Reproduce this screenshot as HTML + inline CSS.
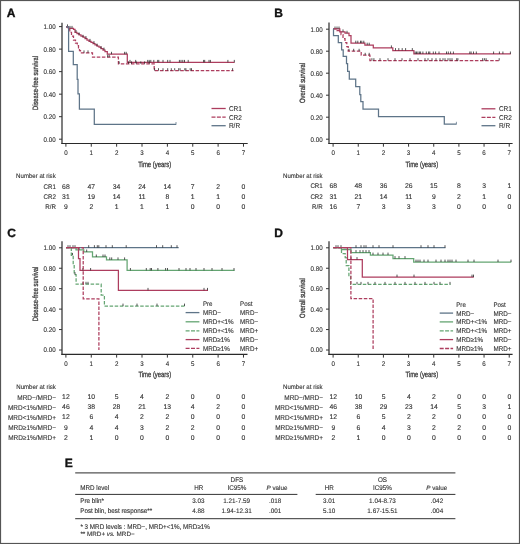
<!DOCTYPE html><html><head><meta charset="utf-8"><style>html,body{margin:0;padding:0;background:#fff;}svg{display:block;will-change:transform;}text{font-family:"Liberation Sans", sans-serif;text-rendering:geometricPrecision;stroke:#444;stroke-width:0.12px;}</style></head><body>
<svg width="520" height="544" viewBox="0 0 520 544">
<rect x="0" y="0" width="520" height="544" fill="#fff"/>
<rect x="0.5" y="0.5" width="519" height="543" fill="none" stroke="#555" stroke-width="1.2"/>
<text x="6.80" y="16.82" font-size="12.00" text-anchor="start" fill="#111" font-weight="bold" style="stroke:#111;stroke-width:0.35px">A</text>
<text x="274.20" y="17.32" font-size="12.00" text-anchor="start" fill="#111" font-weight="bold" style="stroke:#111;stroke-width:0.35px">B</text>
<text x="7.30" y="236.52" font-size="12.00" text-anchor="start" fill="#111" font-weight="bold" style="stroke:#111;stroke-width:0.35px">C</text>
<text x="274.20" y="236.52" font-size="12.00" text-anchor="start" fill="#111" font-weight="bold" style="stroke:#111;stroke-width:0.35px">D</text>
<text x="64.70" y="467.22" font-size="12.00" text-anchor="start" fill="#111" font-weight="bold" style="stroke:#111;stroke-width:0.35px">E</text>
<line x1="62.00" y1="22.70" x2="62.00" y2="144.00" stroke="#3a3a3a" stroke-width="1.3" />
<line x1="61.40" y1="143.50" x2="247.70" y2="143.50" stroke="#2a2a2a" stroke-width="1.2" />
<line x1="59.00" y1="139.20" x2="62.00" y2="139.20" stroke="#333" stroke-width="1.0" />
<text transform="translate(55.60,141.61) scale(0.926,1)" font-size="6.70" text-anchor="end" fill="#2b2b2b" font-weight="normal" >0.00</text>
<line x1="59.00" y1="116.68" x2="62.00" y2="116.68" stroke="#333" stroke-width="1.0" />
<text transform="translate(55.60,119.09) scale(0.926,1)" font-size="6.70" text-anchor="end" fill="#2b2b2b" font-weight="normal" >0.20</text>
<line x1="59.00" y1="94.16" x2="62.00" y2="94.16" stroke="#333" stroke-width="1.0" />
<text transform="translate(55.60,96.57) scale(0.926,1)" font-size="6.70" text-anchor="end" fill="#2b2b2b" font-weight="normal" >0.40</text>
<line x1="59.00" y1="71.64" x2="62.00" y2="71.64" stroke="#333" stroke-width="1.0" />
<text transform="translate(55.60,74.05) scale(0.926,1)" font-size="6.70" text-anchor="end" fill="#2b2b2b" font-weight="normal" >0.60</text>
<line x1="59.00" y1="49.12" x2="62.00" y2="49.12" stroke="#333" stroke-width="1.0" />
<text transform="translate(55.60,51.53) scale(0.926,1)" font-size="6.70" text-anchor="end" fill="#2b2b2b" font-weight="normal" >0.80</text>
<line x1="59.00" y1="26.60" x2="62.00" y2="26.60" stroke="#333" stroke-width="1.0" />
<text transform="translate(55.60,29.01) scale(0.926,1)" font-size="6.70" text-anchor="end" fill="#2b2b2b" font-weight="normal" >1.00</text>
<line x1="65.90" y1="143.50" x2="65.90" y2="146.70" stroke="#333" stroke-width="1.0" />
<text transform="translate(65.90,155.41) scale(0.926,1)" font-size="6.70" text-anchor="middle" fill="#2b2b2b" font-weight="normal" >0</text>
<line x1="91.27" y1="143.50" x2="91.27" y2="146.70" stroke="#333" stroke-width="1.0" />
<text transform="translate(91.27,155.41) scale(0.926,1)" font-size="6.70" text-anchor="middle" fill="#2b2b2b" font-weight="normal" >1</text>
<line x1="116.64" y1="143.50" x2="116.64" y2="146.70" stroke="#333" stroke-width="1.0" />
<text transform="translate(116.64,155.41) scale(0.926,1)" font-size="6.70" text-anchor="middle" fill="#2b2b2b" font-weight="normal" >2</text>
<line x1="142.01" y1="143.50" x2="142.01" y2="146.70" stroke="#333" stroke-width="1.0" />
<text transform="translate(142.01,155.41) scale(0.926,1)" font-size="6.70" text-anchor="middle" fill="#2b2b2b" font-weight="normal" >3</text>
<line x1="167.38" y1="143.50" x2="167.38" y2="146.70" stroke="#333" stroke-width="1.0" />
<text transform="translate(167.38,155.41) scale(0.926,1)" font-size="6.70" text-anchor="middle" fill="#2b2b2b" font-weight="normal" >4</text>
<line x1="192.75" y1="143.50" x2="192.75" y2="146.70" stroke="#333" stroke-width="1.0" />
<text transform="translate(192.75,155.41) scale(0.926,1)" font-size="6.70" text-anchor="middle" fill="#2b2b2b" font-weight="normal" >5</text>
<line x1="218.12" y1="143.50" x2="218.12" y2="146.70" stroke="#333" stroke-width="1.0" />
<text transform="translate(218.12,155.41) scale(0.926,1)" font-size="6.70" text-anchor="middle" fill="#2b2b2b" font-weight="normal" >6</text>
<line x1="243.49" y1="143.50" x2="243.49" y2="146.70" stroke="#333" stroke-width="1.0" />
<text transform="translate(243.49,155.41) scale(0.926,1)" font-size="6.70" text-anchor="middle" fill="#2b2b2b" font-weight="normal" >7</text>
<text transform="translate(35.20,83.00) rotate(-90)" x="0" y="2.77" font-size="7.7" text-anchor="middle" fill="#2b2b2b" style="stroke-width:0.3px" textLength="54" lengthAdjust="spacingAndGlyphs">Disease-free survival</text>
<text x="138.20" y="167.01" font-size="7.8" fill="#2b2b2b" style="stroke-width:0.3px" textLength="33.10" lengthAdjust="spacingAndGlyphs">Time (years)</text>
<path d="M66.00,26.80 H68.50 V28.30 H73.50 V29.30 H75.00 V32.40 H77.00 V33.60 H79.00 V34.80 H81.00 V36.00 H83.00 V37.20 H85.00 V38.60 H87.00 V40.00 H89.00 V41.30 H91.00 V42.40 H93.00 V43.60 H95.00 V44.80 H97.00 V46.00 H99.00 V47.20 H101.00 V48.60 H103.00 V50.00 H105.00 V51.50 H107.30 V54.20 H127.30 V62.30 H234.60 V62.30" fill="none" stroke="#ad3d5e" stroke-width="1.25" stroke-linejoin="miter"/>
<line x1="67.50" y1="24.40" x2="67.50" y2="26.80" stroke="#1e1e1e" stroke-width="0.75" />
<line x1="70.00" y1="25.90" x2="70.00" y2="28.30" stroke="#1e1e1e" stroke-width="0.75" />
<line x1="72.00" y1="25.90" x2="72.00" y2="28.30" stroke="#1e1e1e" stroke-width="0.75" />
<line x1="76.00" y1="30.00" x2="76.00" y2="32.40" stroke="#1e1e1e" stroke-width="0.75" />
<line x1="79.00" y1="32.40" x2="79.00" y2="34.80" stroke="#1e1e1e" stroke-width="0.75" />
<line x1="83.00" y1="34.80" x2="83.00" y2="37.20" stroke="#1e1e1e" stroke-width="0.75" />
<line x1="86.00" y1="36.20" x2="86.00" y2="38.60" stroke="#1e1e1e" stroke-width="0.75" />
<line x1="90.00" y1="38.90" x2="90.00" y2="41.30" stroke="#1e1e1e" stroke-width="0.75" />
<line x1="94.00" y1="41.20" x2="94.00" y2="43.60" stroke="#1e1e1e" stroke-width="0.75" />
<line x1="97.00" y1="43.60" x2="97.00" y2="46.00" stroke="#1e1e1e" stroke-width="0.75" />
<line x1="101.00" y1="46.20" x2="101.00" y2="48.60" stroke="#1e1e1e" stroke-width="0.75" />
<line x1="104.00" y1="47.60" x2="104.00" y2="50.00" stroke="#1e1e1e" stroke-width="0.75" />
<line x1="111.50" y1="51.80" x2="111.50" y2="54.20" stroke="#1e1e1e" stroke-width="0.75" />
<line x1="124.60" y1="51.80" x2="124.60" y2="54.20" stroke="#1e1e1e" stroke-width="0.75" />
<line x1="126.20" y1="51.80" x2="126.20" y2="54.20" stroke="#1e1e1e" stroke-width="0.75" />
<line x1="130.00" y1="59.90" x2="130.00" y2="62.30" stroke="#1e1e1e" stroke-width="0.75" />
<line x1="135.70" y1="59.90" x2="135.70" y2="62.30" stroke="#1e1e1e" stroke-width="0.75" />
<line x1="147.70" y1="59.90" x2="147.70" y2="62.30" stroke="#1e1e1e" stroke-width="0.75" />
<line x1="149.20" y1="59.90" x2="149.20" y2="62.30" stroke="#1e1e1e" stroke-width="0.75" />
<line x1="150.80" y1="59.90" x2="150.80" y2="62.30" stroke="#1e1e1e" stroke-width="0.75" />
<line x1="153.80" y1="59.90" x2="153.80" y2="62.30" stroke="#1e1e1e" stroke-width="0.75" />
<line x1="157.70" y1="59.90" x2="157.70" y2="62.30" stroke="#1e1e1e" stroke-width="0.75" />
<line x1="158.80" y1="59.90" x2="158.80" y2="62.30" stroke="#1e1e1e" stroke-width="0.75" />
<line x1="163.00" y1="59.90" x2="163.00" y2="62.30" stroke="#1e1e1e" stroke-width="0.75" />
<line x1="167.70" y1="59.90" x2="167.70" y2="62.30" stroke="#1e1e1e" stroke-width="0.75" />
<line x1="170.00" y1="59.90" x2="170.00" y2="62.30" stroke="#1e1e1e" stroke-width="0.75" />
<line x1="179.40" y1="59.90" x2="179.40" y2="62.30" stroke="#1e1e1e" stroke-width="0.75" />
<line x1="181.00" y1="59.90" x2="181.00" y2="62.30" stroke="#1e1e1e" stroke-width="0.75" />
<line x1="182.80" y1="59.90" x2="182.80" y2="62.30" stroke="#1e1e1e" stroke-width="0.75" />
<line x1="184.50" y1="59.90" x2="184.50" y2="62.30" stroke="#1e1e1e" stroke-width="0.75" />
<line x1="188.20" y1="59.90" x2="188.20" y2="62.30" stroke="#1e1e1e" stroke-width="0.75" />
<line x1="203.60" y1="59.90" x2="203.60" y2="62.30" stroke="#1e1e1e" stroke-width="0.75" />
<line x1="204.70" y1="59.90" x2="204.70" y2="62.30" stroke="#1e1e1e" stroke-width="0.75" />
<line x1="209.00" y1="59.90" x2="209.00" y2="62.30" stroke="#1e1e1e" stroke-width="0.75" />
<line x1="210.40" y1="59.90" x2="210.40" y2="62.30" stroke="#1e1e1e" stroke-width="0.75" />
<line x1="227.90" y1="59.90" x2="227.90" y2="62.30" stroke="#1e1e1e" stroke-width="0.75" />
<line x1="234.30" y1="59.90" x2="234.30" y2="62.30" stroke="#1e1e1e" stroke-width="0.75" />
<path d="M66.00,26.80 H68.00 V29.50 H69.80 V32.40 H71.50 V36.20 H73.50 V40.00 H75.50 V43.00 H77.30 V45.70 H78.50 V48.50 H79.50 V50.50 H80.50 V52.80 H92.50 V57.20 H118.40 V63.80 H154.20 V70.60 H233.50 V70.60" fill="none" stroke="#ad3d5e" stroke-width="1.25" stroke-dasharray="3.5,1.6" stroke-linejoin="miter"/>
<line x1="84.00" y1="50.40" x2="84.00" y2="52.80" stroke="#1e1e1e" stroke-width="0.75" />
<line x1="88.00" y1="50.40" x2="88.00" y2="52.80" stroke="#1e1e1e" stroke-width="0.75" />
<line x1="107.70" y1="54.80" x2="107.70" y2="57.20" stroke="#1e1e1e" stroke-width="0.75" />
<line x1="109.20" y1="54.80" x2="109.20" y2="57.20" stroke="#1e1e1e" stroke-width="0.75" />
<line x1="119.20" y1="61.40" x2="119.20" y2="63.80" stroke="#1e1e1e" stroke-width="0.75" />
<line x1="128.50" y1="61.40" x2="128.50" y2="63.80" stroke="#1e1e1e" stroke-width="0.75" />
<line x1="131.50" y1="61.40" x2="131.50" y2="63.80" stroke="#1e1e1e" stroke-width="0.75" />
<line x1="136.20" y1="61.40" x2="136.20" y2="63.80" stroke="#1e1e1e" stroke-width="0.75" />
<line x1="140.80" y1="61.40" x2="140.80" y2="63.80" stroke="#1e1e1e" stroke-width="0.75" />
<line x1="144.60" y1="61.40" x2="144.60" y2="63.80" stroke="#1e1e1e" stroke-width="0.75" />
<line x1="149.20" y1="61.40" x2="149.20" y2="63.80" stroke="#1e1e1e" stroke-width="0.75" />
<line x1="154.60" y1="68.20" x2="154.60" y2="70.60" stroke="#1e1e1e" stroke-width="0.75" />
<line x1="158.50" y1="68.20" x2="158.50" y2="70.60" stroke="#1e1e1e" stroke-width="0.75" />
<line x1="163.00" y1="68.20" x2="163.00" y2="70.60" stroke="#1e1e1e" stroke-width="0.75" />
<line x1="167.70" y1="68.20" x2="167.70" y2="70.60" stroke="#1e1e1e" stroke-width="0.75" />
<line x1="171.30" y1="68.20" x2="171.30" y2="70.60" stroke="#1e1e1e" stroke-width="0.75" />
<line x1="174.70" y1="68.20" x2="174.70" y2="70.60" stroke="#1e1e1e" stroke-width="0.75" />
<line x1="178.70" y1="68.20" x2="178.70" y2="70.60" stroke="#1e1e1e" stroke-width="0.75" />
<line x1="180.10" y1="68.20" x2="180.10" y2="70.60" stroke="#1e1e1e" stroke-width="0.75" />
<line x1="184.80" y1="68.20" x2="184.80" y2="70.60" stroke="#1e1e1e" stroke-width="0.75" />
<line x1="185.90" y1="68.20" x2="185.90" y2="70.60" stroke="#1e1e1e" stroke-width="0.75" />
<line x1="190.20" y1="68.20" x2="190.20" y2="70.60" stroke="#1e1e1e" stroke-width="0.75" />
<line x1="191.50" y1="68.20" x2="191.50" y2="70.60" stroke="#1e1e1e" stroke-width="0.75" />
<line x1="232.60" y1="68.20" x2="232.60" y2="70.60" stroke="#1e1e1e" stroke-width="0.75" />
<path d="M66.00,26.80 H68.60 V51.30 H73.30 V64.50 H77.20 V79.40 H78.00 V93.80 H79.40 V109.20 H94.30 V124.40 H176.20 V124.40" fill="none" stroke="#5e7488" stroke-width="1.25" stroke-linejoin="miter"/>
<line x1="176.00" y1="122.00" x2="176.00" y2="124.40" stroke="#5e7488" stroke-width="0.75" />
<line x1="211.50" y1="108.50" x2="225.70" y2="108.50" stroke="#ad3d5e" stroke-width="1.3" />
<text transform="translate(228.90,111.03) scale(0.926,1)" font-size="7.02" text-anchor="start" fill="#2b2b2b" font-weight="normal" >CR1</text>
<line x1="211.50" y1="117.20" x2="225.70" y2="117.20" stroke="#ad3d5e" stroke-width="1.3" stroke-dasharray="4,1.4"/>
<text transform="translate(228.90,119.73) scale(0.926,1)" font-size="7.02" text-anchor="start" fill="#2b2b2b" font-weight="normal" >CR2</text>
<line x1="211.50" y1="125.70" x2="225.70" y2="125.70" stroke="#5e7488" stroke-width="1.3" />
<text transform="translate(228.90,128.23) scale(0.926,1)" font-size="7.02" text-anchor="start" fill="#2b2b2b" font-weight="normal" >R/R</text>
<text transform="translate(16.10,178.47) scale(0.926,1)" font-size="6.59" text-anchor="start" fill="#2b2b2b" font-weight="normal" >Number at risk</text>
<text transform="translate(56.00,188.61) scale(0.926,1)" font-size="6.70" text-anchor="end" fill="#2b2b2b" font-weight="normal" >CR1</text>
<text x="65.90" y="188.65" font-size="6.80" text-anchor="middle" fill="#2b2b2b" font-weight="normal" >68</text>
<text x="91.27" y="188.65" font-size="6.80" text-anchor="middle" fill="#2b2b2b" font-weight="normal" >47</text>
<text x="116.64" y="188.65" font-size="6.80" text-anchor="middle" fill="#2b2b2b" font-weight="normal" >34</text>
<text x="142.01" y="188.65" font-size="6.80" text-anchor="middle" fill="#2b2b2b" font-weight="normal" >24</text>
<text x="167.38" y="188.65" font-size="6.80" text-anchor="middle" fill="#2b2b2b" font-weight="normal" >14</text>
<text x="192.75" y="188.65" font-size="6.80" text-anchor="middle" fill="#2b2b2b" font-weight="normal" >7</text>
<text x="218.12" y="188.65" font-size="6.80" text-anchor="middle" fill="#2b2b2b" font-weight="normal" >2</text>
<text x="243.49" y="188.65" font-size="6.80" text-anchor="middle" fill="#2b2b2b" font-weight="normal" >0</text>
<text transform="translate(56.00,198.71) scale(0.926,1)" font-size="6.70" text-anchor="end" fill="#2b2b2b" font-weight="normal" >CR2</text>
<text x="65.90" y="198.75" font-size="6.80" text-anchor="middle" fill="#2b2b2b" font-weight="normal" >31</text>
<text x="91.27" y="198.75" font-size="6.80" text-anchor="middle" fill="#2b2b2b" font-weight="normal" >19</text>
<text x="116.64" y="198.75" font-size="6.80" text-anchor="middle" fill="#2b2b2b" font-weight="normal" >14</text>
<text x="142.01" y="198.75" font-size="6.80" text-anchor="middle" fill="#2b2b2b" font-weight="normal" >11</text>
<text x="167.38" y="198.75" font-size="6.80" text-anchor="middle" fill="#2b2b2b" font-weight="normal" >8</text>
<text x="192.75" y="198.75" font-size="6.80" text-anchor="middle" fill="#2b2b2b" font-weight="normal" >1</text>
<text x="218.12" y="198.75" font-size="6.80" text-anchor="middle" fill="#2b2b2b" font-weight="normal" >1</text>
<text x="243.49" y="198.75" font-size="6.80" text-anchor="middle" fill="#2b2b2b" font-weight="normal" >0</text>
<text transform="translate(56.00,208.81) scale(0.926,1)" font-size="6.70" text-anchor="end" fill="#2b2b2b" font-weight="normal" >R/R</text>
<text x="65.90" y="208.85" font-size="6.80" text-anchor="middle" fill="#2b2b2b" font-weight="normal" >9</text>
<text x="91.27" y="208.85" font-size="6.80" text-anchor="middle" fill="#2b2b2b" font-weight="normal" >2</text>
<text x="116.64" y="208.85" font-size="6.80" text-anchor="middle" fill="#2b2b2b" font-weight="normal" >1</text>
<text x="142.01" y="208.85" font-size="6.80" text-anchor="middle" fill="#2b2b2b" font-weight="normal" >1</text>
<text x="167.38" y="208.85" font-size="6.80" text-anchor="middle" fill="#2b2b2b" font-weight="normal" >1</text>
<text x="192.75" y="208.85" font-size="6.80" text-anchor="middle" fill="#2b2b2b" font-weight="normal" >0</text>
<text x="218.12" y="208.85" font-size="6.80" text-anchor="middle" fill="#2b2b2b" font-weight="normal" >0</text>
<text x="243.49" y="208.85" font-size="6.80" text-anchor="middle" fill="#2b2b2b" font-weight="normal" >0</text>
<line x1="329.00" y1="22.50" x2="329.00" y2="144.00" stroke="#3a3a3a" stroke-width="1.3" />
<line x1="328.40" y1="143.50" x2="512.60" y2="143.50" stroke="#2a2a2a" stroke-width="1.2" />
<line x1="326.00" y1="139.20" x2="329.00" y2="139.20" stroke="#333" stroke-width="1.0" />
<text transform="translate(322.60,141.61) scale(0.926,1)" font-size="6.70" text-anchor="end" fill="#2b2b2b" font-weight="normal" >0.00</text>
<line x1="326.00" y1="117.20" x2="329.00" y2="117.20" stroke="#333" stroke-width="1.0" />
<text transform="translate(322.60,119.61) scale(0.926,1)" font-size="6.70" text-anchor="end" fill="#2b2b2b" font-weight="normal" >0.20</text>
<line x1="326.00" y1="95.20" x2="329.00" y2="95.20" stroke="#333" stroke-width="1.0" />
<text transform="translate(322.60,97.61) scale(0.926,1)" font-size="6.70" text-anchor="end" fill="#2b2b2b" font-weight="normal" >0.40</text>
<line x1="326.00" y1="73.20" x2="329.00" y2="73.20" stroke="#333" stroke-width="1.0" />
<text transform="translate(322.60,75.61) scale(0.926,1)" font-size="6.70" text-anchor="end" fill="#2b2b2b" font-weight="normal" >0.60</text>
<line x1="326.00" y1="51.20" x2="329.00" y2="51.20" stroke="#333" stroke-width="1.0" />
<text transform="translate(322.60,53.61) scale(0.926,1)" font-size="6.70" text-anchor="end" fill="#2b2b2b" font-weight="normal" >0.80</text>
<line x1="326.00" y1="29.20" x2="329.00" y2="29.20" stroke="#333" stroke-width="1.0" />
<text transform="translate(322.60,31.61) scale(0.926,1)" font-size="6.70" text-anchor="end" fill="#2b2b2b" font-weight="normal" >1.00</text>
<line x1="333.10" y1="143.50" x2="333.10" y2="146.70" stroke="#333" stroke-width="1.0" />
<text transform="translate(333.10,155.41) scale(0.926,1)" font-size="6.70" text-anchor="middle" fill="#2b2b2b" font-weight="normal" >0</text>
<line x1="358.26" y1="143.50" x2="358.26" y2="146.70" stroke="#333" stroke-width="1.0" />
<text transform="translate(358.26,155.41) scale(0.926,1)" font-size="6.70" text-anchor="middle" fill="#2b2b2b" font-weight="normal" >1</text>
<line x1="383.42" y1="143.50" x2="383.42" y2="146.70" stroke="#333" stroke-width="1.0" />
<text transform="translate(383.42,155.41) scale(0.926,1)" font-size="6.70" text-anchor="middle" fill="#2b2b2b" font-weight="normal" >2</text>
<line x1="408.58" y1="143.50" x2="408.58" y2="146.70" stroke="#333" stroke-width="1.0" />
<text transform="translate(408.58,155.41) scale(0.926,1)" font-size="6.70" text-anchor="middle" fill="#2b2b2b" font-weight="normal" >3</text>
<line x1="433.74" y1="143.50" x2="433.74" y2="146.70" stroke="#333" stroke-width="1.0" />
<text transform="translate(433.74,155.41) scale(0.926,1)" font-size="6.70" text-anchor="middle" fill="#2b2b2b" font-weight="normal" >4</text>
<line x1="458.90" y1="143.50" x2="458.90" y2="146.70" stroke="#333" stroke-width="1.0" />
<text transform="translate(458.90,155.41) scale(0.926,1)" font-size="6.70" text-anchor="middle" fill="#2b2b2b" font-weight="normal" >5</text>
<line x1="484.06" y1="143.50" x2="484.06" y2="146.70" stroke="#333" stroke-width="1.0" />
<text transform="translate(484.06,155.41) scale(0.926,1)" font-size="6.70" text-anchor="middle" fill="#2b2b2b" font-weight="normal" >6</text>
<line x1="509.22" y1="143.50" x2="509.22" y2="146.70" stroke="#333" stroke-width="1.0" />
<text transform="translate(509.22,155.41) scale(0.926,1)" font-size="6.70" text-anchor="middle" fill="#2b2b2b" font-weight="normal" >7</text>
<text transform="translate(302.30,83.00) rotate(-90)" x="0" y="2.77" font-size="7.7" text-anchor="middle" fill="#2b2b2b" style="stroke-width:0.3px" textLength="40" lengthAdjust="spacingAndGlyphs">Overall survival</text>
<text x="405.60" y="167.01" font-size="7.8" fill="#2b2b2b" style="stroke-width:0.3px" textLength="32.60" lengthAdjust="spacingAndGlyphs">Time (years)</text>
<path d="M333.20,28.90 H339.80 V31.80 H345.00 V33.20 H349.00 V35.50 H351.00 V43.10 H364.90 V45.10 H373.30 V47.80 H392.80 V50.50 H413.90 V53.90 H510.80 V53.90" fill="none" stroke="#ad3d5e" stroke-width="1.25" stroke-linejoin="miter"/>
<line x1="335.00" y1="26.50" x2="335.00" y2="28.90" stroke="#1e1e1e" stroke-width="0.75" />
<line x1="337.00" y1="26.50" x2="337.00" y2="28.90" stroke="#1e1e1e" stroke-width="0.75" />
<line x1="339.00" y1="26.50" x2="339.00" y2="28.90" stroke="#1e1e1e" stroke-width="0.75" />
<line x1="343.00" y1="29.40" x2="343.00" y2="31.80" stroke="#1e1e1e" stroke-width="0.75" />
<line x1="347.00" y1="30.80" x2="347.00" y2="33.20" stroke="#1e1e1e" stroke-width="0.75" />
<line x1="355.80" y1="40.70" x2="355.80" y2="43.10" stroke="#1e1e1e" stroke-width="0.75" />
<line x1="357.80" y1="40.70" x2="357.80" y2="43.10" stroke="#1e1e1e" stroke-width="0.75" />
<line x1="360.50" y1="40.70" x2="360.50" y2="43.10" stroke="#1e1e1e" stroke-width="0.75" />
<line x1="361.80" y1="40.70" x2="361.80" y2="43.10" stroke="#1e1e1e" stroke-width="0.75" />
<line x1="363.80" y1="40.70" x2="363.80" y2="43.10" stroke="#1e1e1e" stroke-width="0.75" />
<line x1="367.20" y1="42.70" x2="367.20" y2="45.10" stroke="#1e1e1e" stroke-width="0.75" />
<line x1="369.20" y1="42.70" x2="369.20" y2="45.10" stroke="#1e1e1e" stroke-width="0.75" />
<line x1="391.40" y1="45.40" x2="391.40" y2="47.80" stroke="#1e1e1e" stroke-width="0.75" />
<line x1="395.50" y1="48.10" x2="395.50" y2="50.50" stroke="#1e1e1e" stroke-width="0.75" />
<line x1="398.80" y1="48.10" x2="398.80" y2="50.50" stroke="#1e1e1e" stroke-width="0.75" />
<line x1="402.20" y1="48.10" x2="402.20" y2="50.50" stroke="#1e1e1e" stroke-width="0.75" />
<line x1="405.60" y1="48.10" x2="405.60" y2="50.50" stroke="#1e1e1e" stroke-width="0.75" />
<line x1="412.30" y1="48.10" x2="412.30" y2="50.50" stroke="#1e1e1e" stroke-width="0.75" />
<line x1="415.20" y1="51.50" x2="415.20" y2="53.90" stroke="#1e1e1e" stroke-width="0.75" />
<line x1="416.50" y1="51.50" x2="416.50" y2="53.90" stroke="#1e1e1e" stroke-width="0.75" />
<line x1="417.90" y1="51.50" x2="417.90" y2="53.90" stroke="#1e1e1e" stroke-width="0.75" />
<line x1="419.40" y1="51.50" x2="419.40" y2="53.90" stroke="#1e1e1e" stroke-width="0.75" />
<line x1="420.60" y1="51.50" x2="420.60" y2="53.90" stroke="#1e1e1e" stroke-width="0.75" />
<line x1="422.90" y1="51.50" x2="422.90" y2="53.90" stroke="#1e1e1e" stroke-width="0.75" />
<line x1="426.30" y1="51.50" x2="426.30" y2="53.90" stroke="#1e1e1e" stroke-width="0.75" />
<line x1="428.60" y1="51.50" x2="428.60" y2="53.90" stroke="#1e1e1e" stroke-width="0.75" />
<line x1="429.80" y1="51.50" x2="429.80" y2="53.90" stroke="#1e1e1e" stroke-width="0.75" />
<line x1="433.30" y1="51.50" x2="433.30" y2="53.90" stroke="#1e1e1e" stroke-width="0.75" />
<line x1="435.60" y1="51.50" x2="435.60" y2="53.90" stroke="#1e1e1e" stroke-width="0.75" />
<line x1="439.00" y1="51.50" x2="439.00" y2="53.90" stroke="#1e1e1e" stroke-width="0.75" />
<line x1="446.50" y1="51.50" x2="446.50" y2="53.90" stroke="#1e1e1e" stroke-width="0.75" />
<line x1="448.30" y1="51.50" x2="448.30" y2="53.90" stroke="#1e1e1e" stroke-width="0.75" />
<line x1="450.60" y1="51.50" x2="450.60" y2="53.90" stroke="#1e1e1e" stroke-width="0.75" />
<line x1="453.40" y1="51.50" x2="453.40" y2="53.90" stroke="#1e1e1e" stroke-width="0.75" />
<line x1="469.80" y1="51.50" x2="469.80" y2="53.90" stroke="#1e1e1e" stroke-width="0.75" />
<line x1="471.10" y1="51.50" x2="471.10" y2="53.90" stroke="#1e1e1e" stroke-width="0.75" />
<line x1="473.50" y1="51.50" x2="473.50" y2="53.90" stroke="#1e1e1e" stroke-width="0.75" />
<line x1="476.30" y1="51.50" x2="476.30" y2="53.90" stroke="#1e1e1e" stroke-width="0.75" />
<line x1="493.60" y1="51.50" x2="493.60" y2="53.90" stroke="#1e1e1e" stroke-width="0.75" />
<line x1="499.40" y1="51.50" x2="499.40" y2="53.90" stroke="#1e1e1e" stroke-width="0.75" />
<line x1="502.90" y1="51.50" x2="502.90" y2="53.90" stroke="#1e1e1e" stroke-width="0.75" />
<line x1="510.40" y1="51.50" x2="510.40" y2="53.90" stroke="#1e1e1e" stroke-width="0.75" />
<path d="M333.20,28.90 H337.00 V30.50 H341.00 V34.50 H343.00 V38.50 H345.00 V42.50 H346.80 V46.50 H348.20 V51.20 H361.20 V55.20 H369.90 V60.60 H499.40 V60.60" fill="none" stroke="#ad3d5e" stroke-width="1.25" stroke-dasharray="3.5,1.6" stroke-linejoin="miter"/>
<line x1="349.00" y1="48.80" x2="349.00" y2="51.20" stroke="#1e1e1e" stroke-width="0.75" />
<line x1="353.70" y1="48.80" x2="353.70" y2="51.20" stroke="#1e1e1e" stroke-width="0.75" />
<line x1="359.10" y1="48.80" x2="359.10" y2="51.20" stroke="#1e1e1e" stroke-width="0.75" />
<line x1="365.20" y1="52.80" x2="365.20" y2="55.20" stroke="#1e1e1e" stroke-width="0.75" />
<line x1="369.20" y1="52.80" x2="369.20" y2="55.20" stroke="#1e1e1e" stroke-width="0.75" />
<line x1="371.90" y1="58.20" x2="371.90" y2="60.60" stroke="#1e1e1e" stroke-width="0.75" />
<line x1="373.90" y1="58.20" x2="373.90" y2="60.60" stroke="#1e1e1e" stroke-width="0.75" />
<line x1="380.00" y1="58.20" x2="380.00" y2="60.60" stroke="#1e1e1e" stroke-width="0.75" />
<line x1="388.00" y1="58.20" x2="388.00" y2="60.60" stroke="#1e1e1e" stroke-width="0.75" />
<line x1="395.00" y1="58.20" x2="395.00" y2="60.60" stroke="#1e1e1e" stroke-width="0.75" />
<line x1="402.00" y1="58.20" x2="402.00" y2="60.60" stroke="#1e1e1e" stroke-width="0.75" />
<line x1="410.00" y1="58.20" x2="410.00" y2="60.60" stroke="#1e1e1e" stroke-width="0.75" />
<line x1="418.00" y1="58.20" x2="418.00" y2="60.60" stroke="#1e1e1e" stroke-width="0.75" />
<line x1="425.00" y1="58.20" x2="425.00" y2="60.60" stroke="#1e1e1e" stroke-width="0.75" />
<line x1="428.00" y1="58.20" x2="428.00" y2="60.60" stroke="#1e1e1e" stroke-width="0.75" />
<line x1="432.00" y1="58.20" x2="432.00" y2="60.60" stroke="#1e1e1e" stroke-width="0.75" />
<line x1="436.00" y1="58.20" x2="436.00" y2="60.60" stroke="#1e1e1e" stroke-width="0.75" />
<line x1="440.00" y1="58.20" x2="440.00" y2="60.60" stroke="#1e1e1e" stroke-width="0.75" />
<line x1="443.00" y1="58.20" x2="443.00" y2="60.60" stroke="#1e1e1e" stroke-width="0.75" />
<line x1="445.00" y1="58.20" x2="445.00" y2="60.60" stroke="#1e1e1e" stroke-width="0.75" />
<line x1="448.00" y1="58.20" x2="448.00" y2="60.60" stroke="#1e1e1e" stroke-width="0.75" />
<line x1="450.00" y1="58.20" x2="450.00" y2="60.60" stroke="#1e1e1e" stroke-width="0.75" />
<line x1="452.00" y1="58.20" x2="452.00" y2="60.60" stroke="#1e1e1e" stroke-width="0.75" />
<line x1="456.70" y1="58.20" x2="456.70" y2="60.60" stroke="#1e1e1e" stroke-width="0.75" />
<line x1="457.90" y1="58.20" x2="457.90" y2="60.60" stroke="#1e1e1e" stroke-width="0.75" />
<line x1="482.70" y1="58.20" x2="482.70" y2="60.60" stroke="#1e1e1e" stroke-width="0.75" />
<line x1="484.40" y1="58.20" x2="484.40" y2="60.60" stroke="#1e1e1e" stroke-width="0.75" />
<line x1="486.10" y1="58.20" x2="486.10" y2="60.60" stroke="#1e1e1e" stroke-width="0.75" />
<line x1="499.20" y1="58.20" x2="499.20" y2="60.60" stroke="#1e1e1e" stroke-width="0.75" />
<path d="M333.20,28.90 H333.50 V35.50 H338.30 V42.60 H341.60 V49.80 H343.20 V56.40 H346.50 V63.60 H347.60 V71.30 H349.30 V79.00 H355.70 V86.60 H359.80 V94.60 H360.80 V101.50 H363.00 V109.20 H378.50 V116.50 H444.30 V124.20 H456.60 V124.20" fill="none" stroke="#5e7488" stroke-width="1.25" stroke-linejoin="miter"/>
<line x1="456.40" y1="121.80" x2="456.40" y2="124.20" stroke="#5e7488" stroke-width="0.75" />
<line x1="481.50" y1="108.80" x2="495.40" y2="108.80" stroke="#ad3d5e" stroke-width="1.3" />
<text transform="translate(498.90,111.33) scale(0.926,1)" font-size="7.02" text-anchor="start" fill="#2b2b2b" font-weight="normal" >CR1</text>
<line x1="481.50" y1="117.40" x2="495.40" y2="117.40" stroke="#ad3d5e" stroke-width="1.3" stroke-dasharray="4,1.4"/>
<text transform="translate(498.90,119.93) scale(0.926,1)" font-size="7.02" text-anchor="start" fill="#2b2b2b" font-weight="normal" >CR2</text>
<line x1="481.50" y1="125.70" x2="495.40" y2="125.70" stroke="#5e7488" stroke-width="1.3" />
<text transform="translate(498.90,128.23) scale(0.926,1)" font-size="7.02" text-anchor="start" fill="#2b2b2b" font-weight="normal" >R/R</text>
<text transform="translate(283.00,178.47) scale(0.926,1)" font-size="6.59" text-anchor="start" fill="#2b2b2b" font-weight="normal" >Number at risk</text>
<text transform="translate(322.80,188.41) scale(0.926,1)" font-size="6.70" text-anchor="end" fill="#2b2b2b" font-weight="normal" >CR1</text>
<text x="333.20" y="188.45" font-size="6.80" text-anchor="middle" fill="#2b2b2b" font-weight="normal" >68</text>
<text x="358.36" y="188.45" font-size="6.80" text-anchor="middle" fill="#2b2b2b" font-weight="normal" >48</text>
<text x="383.52" y="188.45" font-size="6.80" text-anchor="middle" fill="#2b2b2b" font-weight="normal" >36</text>
<text x="408.68" y="188.45" font-size="6.80" text-anchor="middle" fill="#2b2b2b" font-weight="normal" >26</text>
<text x="433.84" y="188.45" font-size="6.80" text-anchor="middle" fill="#2b2b2b" font-weight="normal" >15</text>
<text x="459.00" y="188.45" font-size="6.80" text-anchor="middle" fill="#2b2b2b" font-weight="normal" >8</text>
<text x="484.16" y="188.45" font-size="6.80" text-anchor="middle" fill="#2b2b2b" font-weight="normal" >3</text>
<text x="509.32" y="188.45" font-size="6.80" text-anchor="middle" fill="#2b2b2b" font-weight="normal" >1</text>
<text transform="translate(322.80,198.51) scale(0.926,1)" font-size="6.70" text-anchor="end" fill="#2b2b2b" font-weight="normal" >CR2</text>
<text x="333.20" y="198.55" font-size="6.80" text-anchor="middle" fill="#2b2b2b" font-weight="normal" >31</text>
<text x="358.36" y="198.55" font-size="6.80" text-anchor="middle" fill="#2b2b2b" font-weight="normal" >21</text>
<text x="383.52" y="198.55" font-size="6.80" text-anchor="middle" fill="#2b2b2b" font-weight="normal" >14</text>
<text x="408.68" y="198.55" font-size="6.80" text-anchor="middle" fill="#2b2b2b" font-weight="normal" >11</text>
<text x="433.84" y="198.55" font-size="6.80" text-anchor="middle" fill="#2b2b2b" font-weight="normal" >9</text>
<text x="459.00" y="198.55" font-size="6.80" text-anchor="middle" fill="#2b2b2b" font-weight="normal" >2</text>
<text x="484.16" y="198.55" font-size="6.80" text-anchor="middle" fill="#2b2b2b" font-weight="normal" >1</text>
<text x="509.32" y="198.55" font-size="6.80" text-anchor="middle" fill="#2b2b2b" font-weight="normal" >0</text>
<text transform="translate(322.80,208.61) scale(0.926,1)" font-size="6.70" text-anchor="end" fill="#2b2b2b" font-weight="normal" >R/R</text>
<text x="333.20" y="208.65" font-size="6.80" text-anchor="middle" fill="#2b2b2b" font-weight="normal" >16</text>
<text x="358.36" y="208.65" font-size="6.80" text-anchor="middle" fill="#2b2b2b" font-weight="normal" >7</text>
<text x="383.52" y="208.65" font-size="6.80" text-anchor="middle" fill="#2b2b2b" font-weight="normal" >3</text>
<text x="408.68" y="208.65" font-size="6.80" text-anchor="middle" fill="#2b2b2b" font-weight="normal" >3</text>
<text x="433.84" y="208.65" font-size="6.80" text-anchor="middle" fill="#2b2b2b" font-weight="normal" >3</text>
<text x="459.00" y="208.65" font-size="6.80" text-anchor="middle" fill="#2b2b2b" font-weight="normal" >0</text>
<text x="484.16" y="208.65" font-size="6.80" text-anchor="middle" fill="#2b2b2b" font-weight="normal" >0</text>
<text x="509.32" y="208.65" font-size="6.80" text-anchor="middle" fill="#2b2b2b" font-weight="normal" >0</text>
<line x1="62.00" y1="241.20" x2="62.00" y2="354.90" stroke="#3a3a3a" stroke-width="1.3" />
<line x1="61.40" y1="354.40" x2="247.50" y2="354.40" stroke="#2a2a2a" stroke-width="1.2" />
<line x1="59.00" y1="350.00" x2="62.00" y2="350.00" stroke="#333" stroke-width="1.0" />
<text transform="translate(55.60,352.41) scale(0.926,1)" font-size="6.70" text-anchor="end" fill="#2b2b2b" font-weight="normal" >0.00</text>
<line x1="59.00" y1="329.56" x2="62.00" y2="329.56" stroke="#333" stroke-width="1.0" />
<text transform="translate(55.60,331.97) scale(0.926,1)" font-size="6.70" text-anchor="end" fill="#2b2b2b" font-weight="normal" >0.20</text>
<line x1="59.00" y1="309.12" x2="62.00" y2="309.12" stroke="#333" stroke-width="1.0" />
<text transform="translate(55.60,311.53) scale(0.926,1)" font-size="6.70" text-anchor="end" fill="#2b2b2b" font-weight="normal" >0.40</text>
<line x1="59.00" y1="288.68" x2="62.00" y2="288.68" stroke="#333" stroke-width="1.0" />
<text transform="translate(55.60,291.09) scale(0.926,1)" font-size="6.70" text-anchor="end" fill="#2b2b2b" font-weight="normal" >0.60</text>
<line x1="59.00" y1="268.24" x2="62.00" y2="268.24" stroke="#333" stroke-width="1.0" />
<text transform="translate(55.60,270.65) scale(0.926,1)" font-size="6.70" text-anchor="end" fill="#2b2b2b" font-weight="normal" >0.80</text>
<line x1="59.00" y1="247.80" x2="62.00" y2="247.80" stroke="#333" stroke-width="1.0" />
<text transform="translate(55.60,250.21) scale(0.926,1)" font-size="6.70" text-anchor="end" fill="#2b2b2b" font-weight="normal" >1.00</text>
<line x1="65.90" y1="354.40" x2="65.90" y2="357.60" stroke="#333" stroke-width="1.0" />
<text transform="translate(65.90,366.31) scale(0.926,1)" font-size="6.70" text-anchor="middle" fill="#2b2b2b" font-weight="normal" >0</text>
<line x1="91.27" y1="354.40" x2="91.27" y2="357.60" stroke="#333" stroke-width="1.0" />
<text transform="translate(91.27,366.31) scale(0.926,1)" font-size="6.70" text-anchor="middle" fill="#2b2b2b" font-weight="normal" >1</text>
<line x1="116.64" y1="354.40" x2="116.64" y2="357.60" stroke="#333" stroke-width="1.0" />
<text transform="translate(116.64,366.31) scale(0.926,1)" font-size="6.70" text-anchor="middle" fill="#2b2b2b" font-weight="normal" >2</text>
<line x1="142.01" y1="354.40" x2="142.01" y2="357.60" stroke="#333" stroke-width="1.0" />
<text transform="translate(142.01,366.31) scale(0.926,1)" font-size="6.70" text-anchor="middle" fill="#2b2b2b" font-weight="normal" >3</text>
<line x1="167.38" y1="354.40" x2="167.38" y2="357.60" stroke="#333" stroke-width="1.0" />
<text transform="translate(167.38,366.31) scale(0.926,1)" font-size="6.70" text-anchor="middle" fill="#2b2b2b" font-weight="normal" >4</text>
<line x1="192.75" y1="354.40" x2="192.75" y2="357.60" stroke="#333" stroke-width="1.0" />
<text transform="translate(192.75,366.31) scale(0.926,1)" font-size="6.70" text-anchor="middle" fill="#2b2b2b" font-weight="normal" >5</text>
<line x1="218.12" y1="354.40" x2="218.12" y2="357.60" stroke="#333" stroke-width="1.0" />
<text transform="translate(218.12,366.31) scale(0.926,1)" font-size="6.70" text-anchor="middle" fill="#2b2b2b" font-weight="normal" >6</text>
<line x1="243.49" y1="354.40" x2="243.49" y2="357.60" stroke="#333" stroke-width="1.0" />
<text transform="translate(243.49,366.31) scale(0.926,1)" font-size="6.70" text-anchor="middle" fill="#2b2b2b" font-weight="normal" >7</text>
<text transform="translate(34.80,293.90) rotate(-90)" x="0" y="2.77" font-size="7.7" text-anchor="middle" fill="#2b2b2b" style="stroke-width:0.3px" textLength="54.6" lengthAdjust="spacingAndGlyphs">Disease-free survival</text>
<text x="138.40" y="377.31" font-size="7.8" fill="#2b2b2b" style="stroke-width:0.3px" textLength="32.80" lengthAdjust="spacingAndGlyphs">Time (years)</text>
<path d="M66.00,247.60 H178.70 V247.60" fill="none" stroke="#5e7488" stroke-width="1.25" stroke-linejoin="miter"/>
<line x1="68.00" y1="245.20" x2="68.00" y2="247.60" stroke="#1e1e1e" stroke-width="0.75" />
<line x1="70.00" y1="245.20" x2="70.00" y2="247.60" stroke="#1e1e1e" stroke-width="0.75" />
<line x1="73.00" y1="245.20" x2="73.00" y2="247.60" stroke="#1e1e1e" stroke-width="0.75" />
<line x1="75.00" y1="245.20" x2="75.00" y2="247.60" stroke="#1e1e1e" stroke-width="0.75" />
<line x1="88.70" y1="245.20" x2="88.70" y2="247.60" stroke="#1e1e1e" stroke-width="0.75" />
<line x1="94.40" y1="245.20" x2="94.40" y2="247.60" stroke="#1e1e1e" stroke-width="0.75" />
<line x1="97.30" y1="245.20" x2="97.30" y2="247.60" stroke="#1e1e1e" stroke-width="0.75" />
<line x1="98.80" y1="245.20" x2="98.80" y2="247.60" stroke="#1e1e1e" stroke-width="0.75" />
<line x1="106.00" y1="245.20" x2="106.00" y2="247.60" stroke="#1e1e1e" stroke-width="0.75" />
<line x1="112.30" y1="245.20" x2="112.30" y2="247.60" stroke="#1e1e1e" stroke-width="0.75" />
<line x1="126.20" y1="245.20" x2="126.20" y2="247.60" stroke="#1e1e1e" stroke-width="0.75" />
<line x1="156.50" y1="245.20" x2="156.50" y2="247.60" stroke="#1e1e1e" stroke-width="0.75" />
<line x1="162.70" y1="245.20" x2="162.70" y2="247.60" stroke="#1e1e1e" stroke-width="0.75" />
<line x1="171.30" y1="245.20" x2="171.30" y2="247.60" stroke="#1e1e1e" stroke-width="0.75" />
<line x1="177.00" y1="245.20" x2="177.00" y2="247.60" stroke="#1e1e1e" stroke-width="0.75" />
<path d="M66.00,247.60 H76.00 V249.80 H83.80 V251.90 H92.50 V256.90 H106.50 V259.80 H127.10 V270.40 H234.60 V270.40" fill="none" stroke="#64a572" stroke-width="1.25" stroke-linejoin="miter"/>
<line x1="79.00" y1="247.40" x2="79.00" y2="249.80" stroke="#1e1e1e" stroke-width="0.75" />
<line x1="86.70" y1="249.50" x2="86.70" y2="251.90" stroke="#1e1e1e" stroke-width="0.75" />
<line x1="96.30" y1="254.50" x2="96.30" y2="256.90" stroke="#1e1e1e" stroke-width="0.75" />
<line x1="103.00" y1="254.50" x2="103.00" y2="256.90" stroke="#1e1e1e" stroke-width="0.75" />
<line x1="105.00" y1="254.50" x2="105.00" y2="256.90" stroke="#1e1e1e" stroke-width="0.75" />
<line x1="109.80" y1="257.40" x2="109.80" y2="259.80" stroke="#1e1e1e" stroke-width="0.75" />
<line x1="111.70" y1="257.40" x2="111.70" y2="259.80" stroke="#1e1e1e" stroke-width="0.75" />
<line x1="118.00" y1="257.40" x2="118.00" y2="259.80" stroke="#1e1e1e" stroke-width="0.75" />
<line x1="124.60" y1="257.40" x2="124.60" y2="259.80" stroke="#1e1e1e" stroke-width="0.75" />
<line x1="130.40" y1="268.00" x2="130.40" y2="270.40" stroke="#1e1e1e" stroke-width="0.75" />
<line x1="146.30" y1="268.00" x2="146.30" y2="270.40" stroke="#1e1e1e" stroke-width="0.75" />
<line x1="150.20" y1="268.00" x2="150.20" y2="270.40" stroke="#1e1e1e" stroke-width="0.75" />
<line x1="151.50" y1="268.00" x2="151.50" y2="270.40" stroke="#1e1e1e" stroke-width="0.75" />
<line x1="157.90" y1="268.00" x2="157.90" y2="270.40" stroke="#1e1e1e" stroke-width="0.75" />
<line x1="165.60" y1="268.00" x2="165.60" y2="270.40" stroke="#1e1e1e" stroke-width="0.75" />
<line x1="167.50" y1="268.00" x2="167.50" y2="270.40" stroke="#1e1e1e" stroke-width="0.75" />
<line x1="179.00" y1="268.00" x2="179.00" y2="270.40" stroke="#1e1e1e" stroke-width="0.75" />
<line x1="186.00" y1="268.00" x2="186.00" y2="270.40" stroke="#1e1e1e" stroke-width="0.75" />
<line x1="190.00" y1="268.00" x2="190.00" y2="270.40" stroke="#1e1e1e" stroke-width="0.75" />
<line x1="196.00" y1="268.00" x2="196.00" y2="270.40" stroke="#1e1e1e" stroke-width="0.75" />
<line x1="204.00" y1="268.00" x2="204.00" y2="270.40" stroke="#1e1e1e" stroke-width="0.75" />
<line x1="212.00" y1="268.00" x2="212.00" y2="270.40" stroke="#1e1e1e" stroke-width="0.75" />
<line x1="222.00" y1="268.00" x2="222.00" y2="270.40" stroke="#1e1e1e" stroke-width="0.75" />
<line x1="234.00" y1="268.00" x2="234.00" y2="270.40" stroke="#1e1e1e" stroke-width="0.75" />
<path d="M66.00,247.60 H71.30 V255.30 H73.20 V264.50 H74.20 V274.60 H76.10 V284.20 H101.20 V295.10 H104.40 V306.00 H185.00 V306.00" fill="none" stroke="#64a572" stroke-width="1.25" stroke-dasharray="3.5,1.6" stroke-linejoin="miter"/>
<line x1="72.50" y1="252.90" x2="72.50" y2="255.30" stroke="#1e1e1e" stroke-width="0.75" />
<line x1="75.00" y1="272.20" x2="75.00" y2="274.60" stroke="#1e1e1e" stroke-width="0.75" />
<line x1="83.00" y1="281.80" x2="83.00" y2="284.20" stroke="#1e1e1e" stroke-width="0.75" />
<line x1="86.00" y1="281.80" x2="86.00" y2="284.20" stroke="#1e1e1e" stroke-width="0.75" />
<line x1="88.00" y1="281.80" x2="88.00" y2="284.20" stroke="#1e1e1e" stroke-width="0.75" />
<line x1="123.00" y1="303.60" x2="123.00" y2="306.00" stroke="#1e1e1e" stroke-width="0.75" />
<line x1="137.00" y1="303.60" x2="137.00" y2="306.00" stroke="#1e1e1e" stroke-width="0.75" />
<line x1="157.00" y1="303.60" x2="157.00" y2="306.00" stroke="#1e1e1e" stroke-width="0.75" />
<line x1="184.50" y1="303.60" x2="184.50" y2="306.00" stroke="#1e1e1e" stroke-width="0.75" />
<path d="M66.00,247.60 H78.50 V258.50 H80.00 V270.40 H118.40 V290.30 H208.00 V290.30" fill="none" stroke="#ad3d5e" stroke-width="1.25" stroke-linejoin="miter"/>
<line x1="82.90" y1="268.00" x2="82.90" y2="270.40" stroke="#1e1e1e" stroke-width="0.75" />
<line x1="90.60" y1="268.00" x2="90.60" y2="270.40" stroke="#1e1e1e" stroke-width="0.75" />
<line x1="148.00" y1="287.90" x2="148.00" y2="290.30" stroke="#1e1e1e" stroke-width="0.75" />
<line x1="204.00" y1="287.90" x2="204.00" y2="290.30" stroke="#1e1e1e" stroke-width="0.75" />
<line x1="207.50" y1="287.90" x2="207.50" y2="290.30" stroke="#1e1e1e" stroke-width="0.75" />
<path d="M66.00,247.60 H83.20 V298.80 H98.90 V350.00" fill="none" stroke="#ad3d5e" stroke-width="1.25" stroke-dasharray="3.5,1.6" stroke-linejoin="miter"/>
<text transform="translate(202.90,306.41) scale(0.926,1)" font-size="6.70" text-anchor="start" fill="#2b2b2b" font-weight="normal" >Pre</text>
<text transform="translate(240.10,306.41) scale(0.926,1)" font-size="6.70" text-anchor="start" fill="#2b2b2b" font-weight="normal" >Post</text>
<line x1="185.60" y1="312.60" x2="199.40" y2="312.60" stroke="#5e7488" stroke-width="1.3" />
<text transform="translate(202.90,315.05) scale(0.926,1)" font-size="6.80" text-anchor="start" fill="#2b2b2b" font-weight="normal" >MRD−</text>
<text transform="translate(240.10,315.05) scale(0.926,1)" font-size="6.80" text-anchor="start" fill="#2b2b2b" font-weight="normal" >MRD−</text>
<line x1="185.60" y1="321.80" x2="199.40" y2="321.80" stroke="#64a572" stroke-width="1.3" />
<text transform="translate(202.90,324.25) scale(0.926,1)" font-size="6.80" text-anchor="start" fill="#2b2b2b" font-weight="normal" >MRD+&lt;1%</text>
<text transform="translate(240.10,324.25) scale(0.926,1)" font-size="6.80" text-anchor="start" fill="#2b2b2b" font-weight="normal" >MRD−</text>
<line x1="185.60" y1="330.80" x2="199.40" y2="330.80" stroke="#64a572" stroke-width="1.3" stroke-dasharray="4,1.4"/>
<text transform="translate(202.90,333.25) scale(0.926,1)" font-size="6.80" text-anchor="start" fill="#2b2b2b" font-weight="normal" >MRD+&lt;1%</text>
<text transform="translate(240.10,333.25) scale(0.926,1)" font-size="6.80" text-anchor="start" fill="#2b2b2b" font-weight="normal" >MRD+</text>
<line x1="185.60" y1="339.60" x2="199.40" y2="339.60" stroke="#ad3d5e" stroke-width="1.3" />
<text transform="translate(202.90,342.05) scale(0.926,1)" font-size="6.80" text-anchor="start" fill="#2b2b2b" font-weight="normal" >MRD≥1%</text>
<text transform="translate(240.10,342.05) scale(0.926,1)" font-size="6.80" text-anchor="start" fill="#2b2b2b" font-weight="normal" >MRD−</text>
<line x1="185.60" y1="348.30" x2="199.40" y2="348.30" stroke="#ad3d5e" stroke-width="1.3" stroke-dasharray="4,1.4"/>
<text transform="translate(202.90,350.75) scale(0.926,1)" font-size="6.80" text-anchor="start" fill="#2b2b2b" font-weight="normal" >MRD≥1%</text>
<text transform="translate(240.10,350.75) scale(0.926,1)" font-size="6.80" text-anchor="start" fill="#2b2b2b" font-weight="normal" >MRD+</text>
<text transform="translate(16.25,389.12) scale(0.926,1)" font-size="6.59" text-anchor="start" fill="#2b2b2b" font-weight="normal" >Number at risk</text>
<text transform="translate(56.00,399.51) scale(0.926,1)" font-size="6.97" text-anchor="end" fill="#2b2b2b" font-weight="normal" >MRD−/MRD−</text>
<text x="65.90" y="399.45" font-size="6.80" text-anchor="middle" fill="#2b2b2b" font-weight="normal" >12</text>
<text x="91.27" y="399.45" font-size="6.80" text-anchor="middle" fill="#2b2b2b" font-weight="normal" >10</text>
<text x="116.64" y="399.45" font-size="6.80" text-anchor="middle" fill="#2b2b2b" font-weight="normal" >5</text>
<text x="142.01" y="399.45" font-size="6.80" text-anchor="middle" fill="#2b2b2b" font-weight="normal" >4</text>
<text x="167.38" y="399.45" font-size="6.80" text-anchor="middle" fill="#2b2b2b" font-weight="normal" >2</text>
<text x="192.75" y="399.45" font-size="6.80" text-anchor="middle" fill="#2b2b2b" font-weight="normal" >0</text>
<text x="218.12" y="399.45" font-size="6.80" text-anchor="middle" fill="#2b2b2b" font-weight="normal" >0</text>
<text x="243.49" y="399.45" font-size="6.80" text-anchor="middle" fill="#2b2b2b" font-weight="normal" >0</text>
<text transform="translate(56.00,409.51) scale(0.926,1)" font-size="6.97" text-anchor="end" fill="#2b2b2b" font-weight="normal" >MRD&lt;1%/MRD−</text>
<text x="65.90" y="409.45" font-size="6.80" text-anchor="middle" fill="#2b2b2b" font-weight="normal" >46</text>
<text x="91.27" y="409.45" font-size="6.80" text-anchor="middle" fill="#2b2b2b" font-weight="normal" >38</text>
<text x="116.64" y="409.45" font-size="6.80" text-anchor="middle" fill="#2b2b2b" font-weight="normal" >28</text>
<text x="142.01" y="409.45" font-size="6.80" text-anchor="middle" fill="#2b2b2b" font-weight="normal" >21</text>
<text x="167.38" y="409.45" font-size="6.80" text-anchor="middle" fill="#2b2b2b" font-weight="normal" >13</text>
<text x="192.75" y="409.45" font-size="6.80" text-anchor="middle" fill="#2b2b2b" font-weight="normal" >4</text>
<text x="218.12" y="409.45" font-size="6.80" text-anchor="middle" fill="#2b2b2b" font-weight="normal" >2</text>
<text x="243.49" y="409.45" font-size="6.80" text-anchor="middle" fill="#2b2b2b" font-weight="normal" >0</text>
<text transform="translate(56.00,419.51) scale(0.926,1)" font-size="6.97" text-anchor="end" fill="#2b2b2b" font-weight="normal" >MRD&lt;1%/MRD+</text>
<text x="65.90" y="419.45" font-size="6.80" text-anchor="middle" fill="#2b2b2b" font-weight="normal" >12</text>
<text x="91.27" y="419.45" font-size="6.80" text-anchor="middle" fill="#2b2b2b" font-weight="normal" >6</text>
<text x="116.64" y="419.45" font-size="6.80" text-anchor="middle" fill="#2b2b2b" font-weight="normal" >4</text>
<text x="142.01" y="419.45" font-size="6.80" text-anchor="middle" fill="#2b2b2b" font-weight="normal" >2</text>
<text x="167.38" y="419.45" font-size="6.80" text-anchor="middle" fill="#2b2b2b" font-weight="normal" >2</text>
<text x="192.75" y="419.45" font-size="6.80" text-anchor="middle" fill="#2b2b2b" font-weight="normal" >0</text>
<text x="218.12" y="419.45" font-size="6.80" text-anchor="middle" fill="#2b2b2b" font-weight="normal" >0</text>
<text x="243.49" y="419.45" font-size="6.80" text-anchor="middle" fill="#2b2b2b" font-weight="normal" >0</text>
<text transform="translate(56.00,430.01) scale(0.926,1)" font-size="6.97" text-anchor="end" fill="#2b2b2b" font-weight="normal" >MRD≥1%/MRD−</text>
<text x="65.90" y="429.95" font-size="6.80" text-anchor="middle" fill="#2b2b2b" font-weight="normal" >9</text>
<text x="91.27" y="429.95" font-size="6.80" text-anchor="middle" fill="#2b2b2b" font-weight="normal" >4</text>
<text x="116.64" y="429.95" font-size="6.80" text-anchor="middle" fill="#2b2b2b" font-weight="normal" >4</text>
<text x="142.01" y="429.95" font-size="6.80" text-anchor="middle" fill="#2b2b2b" font-weight="normal" >3</text>
<text x="167.38" y="429.95" font-size="6.80" text-anchor="middle" fill="#2b2b2b" font-weight="normal" >2</text>
<text x="192.75" y="429.95" font-size="6.80" text-anchor="middle" fill="#2b2b2b" font-weight="normal" >2</text>
<text x="218.12" y="429.95" font-size="6.80" text-anchor="middle" fill="#2b2b2b" font-weight="normal" >0</text>
<text x="243.49" y="429.95" font-size="6.80" text-anchor="middle" fill="#2b2b2b" font-weight="normal" >0</text>
<text transform="translate(56.00,440.01) scale(0.926,1)" font-size="6.97" text-anchor="end" fill="#2b2b2b" font-weight="normal" >MRD≥1%/MRD+</text>
<text x="65.90" y="439.95" font-size="6.80" text-anchor="middle" fill="#2b2b2b" font-weight="normal" >2</text>
<text x="91.27" y="439.95" font-size="6.80" text-anchor="middle" fill="#2b2b2b" font-weight="normal" >1</text>
<text x="116.64" y="439.95" font-size="6.80" text-anchor="middle" fill="#2b2b2b" font-weight="normal" >0</text>
<text x="142.01" y="439.95" font-size="6.80" text-anchor="middle" fill="#2b2b2b" font-weight="normal" >0</text>
<text x="167.38" y="439.95" font-size="6.80" text-anchor="middle" fill="#2b2b2b" font-weight="normal" >0</text>
<text x="192.75" y="439.95" font-size="6.80" text-anchor="middle" fill="#2b2b2b" font-weight="normal" >0</text>
<text x="218.12" y="439.95" font-size="6.80" text-anchor="middle" fill="#2b2b2b" font-weight="normal" >0</text>
<text x="243.49" y="439.95" font-size="6.80" text-anchor="middle" fill="#2b2b2b" font-weight="normal" >0</text>
<line x1="329.00" y1="241.20" x2="329.00" y2="354.90" stroke="#3a3a3a" stroke-width="1.3" />
<line x1="328.40" y1="354.40" x2="512.60" y2="354.40" stroke="#2a2a2a" stroke-width="1.2" />
<line x1="326.00" y1="350.00" x2="329.00" y2="350.00" stroke="#333" stroke-width="1.0" />
<text transform="translate(322.60,352.41) scale(0.926,1)" font-size="6.70" text-anchor="end" fill="#2b2b2b" font-weight="normal" >0.00</text>
<line x1="326.00" y1="329.56" x2="329.00" y2="329.56" stroke="#333" stroke-width="1.0" />
<text transform="translate(322.60,331.97) scale(0.926,1)" font-size="6.70" text-anchor="end" fill="#2b2b2b" font-weight="normal" >0.20</text>
<line x1="326.00" y1="309.12" x2="329.00" y2="309.12" stroke="#333" stroke-width="1.0" />
<text transform="translate(322.60,311.53) scale(0.926,1)" font-size="6.70" text-anchor="end" fill="#2b2b2b" font-weight="normal" >0.40</text>
<line x1="326.00" y1="288.68" x2="329.00" y2="288.68" stroke="#333" stroke-width="1.0" />
<text transform="translate(322.60,291.09) scale(0.926,1)" font-size="6.70" text-anchor="end" fill="#2b2b2b" font-weight="normal" >0.60</text>
<line x1="326.00" y1="268.24" x2="329.00" y2="268.24" stroke="#333" stroke-width="1.0" />
<text transform="translate(322.60,270.65) scale(0.926,1)" font-size="6.70" text-anchor="end" fill="#2b2b2b" font-weight="normal" >0.80</text>
<line x1="326.00" y1="247.80" x2="329.00" y2="247.80" stroke="#333" stroke-width="1.0" />
<text transform="translate(322.60,250.21) scale(0.926,1)" font-size="6.70" text-anchor="end" fill="#2b2b2b" font-weight="normal" >1.00</text>
<line x1="333.10" y1="354.40" x2="333.10" y2="357.60" stroke="#333" stroke-width="1.0" />
<text transform="translate(333.10,366.11) scale(0.926,1)" font-size="6.70" text-anchor="middle" fill="#2b2b2b" font-weight="normal" >0</text>
<line x1="358.26" y1="354.40" x2="358.26" y2="357.60" stroke="#333" stroke-width="1.0" />
<text transform="translate(358.26,366.11) scale(0.926,1)" font-size="6.70" text-anchor="middle" fill="#2b2b2b" font-weight="normal" >1</text>
<line x1="383.42" y1="354.40" x2="383.42" y2="357.60" stroke="#333" stroke-width="1.0" />
<text transform="translate(383.42,366.11) scale(0.926,1)" font-size="6.70" text-anchor="middle" fill="#2b2b2b" font-weight="normal" >2</text>
<line x1="408.58" y1="354.40" x2="408.58" y2="357.60" stroke="#333" stroke-width="1.0" />
<text transform="translate(408.58,366.11) scale(0.926,1)" font-size="6.70" text-anchor="middle" fill="#2b2b2b" font-weight="normal" >3</text>
<line x1="433.74" y1="354.40" x2="433.74" y2="357.60" stroke="#333" stroke-width="1.0" />
<text transform="translate(433.74,366.11) scale(0.926,1)" font-size="6.70" text-anchor="middle" fill="#2b2b2b" font-weight="normal" >4</text>
<line x1="458.90" y1="354.40" x2="458.90" y2="357.60" stroke="#333" stroke-width="1.0" />
<text transform="translate(458.90,366.11) scale(0.926,1)" font-size="6.70" text-anchor="middle" fill="#2b2b2b" font-weight="normal" >5</text>
<line x1="484.06" y1="354.40" x2="484.06" y2="357.60" stroke="#333" stroke-width="1.0" />
<text transform="translate(484.06,366.11) scale(0.926,1)" font-size="6.70" text-anchor="middle" fill="#2b2b2b" font-weight="normal" >6</text>
<line x1="509.22" y1="354.40" x2="509.22" y2="357.60" stroke="#333" stroke-width="1.0" />
<text transform="translate(509.22,366.11) scale(0.926,1)" font-size="6.70" text-anchor="middle" fill="#2b2b2b" font-weight="normal" >7</text>
<text transform="translate(302.30,298.00) rotate(-90)" x="0" y="2.77" font-size="7.7" text-anchor="middle" fill="#2b2b2b" style="stroke-width:0.3px" textLength="39.8" lengthAdjust="spacingAndGlyphs">Overall survival</text>
<text x="405.50" y="377.41" font-size="7.8" fill="#2b2b2b" style="stroke-width:0.3px" textLength="32.70" lengthAdjust="spacingAndGlyphs">Time (years)</text>
<path d="M333.20,247.60 H445.50 V247.60" fill="none" stroke="#5e7488" stroke-width="1.25" stroke-linejoin="miter"/>
<line x1="336.00" y1="245.20" x2="336.00" y2="247.60" stroke="#1e1e1e" stroke-width="0.75" />
<line x1="338.00" y1="245.20" x2="338.00" y2="247.60" stroke="#1e1e1e" stroke-width="0.75" />
<line x1="341.00" y1="245.20" x2="341.00" y2="247.60" stroke="#1e1e1e" stroke-width="0.75" />
<line x1="356.00" y1="245.20" x2="356.00" y2="247.60" stroke="#1e1e1e" stroke-width="0.75" />
<line x1="361.00" y1="245.20" x2="361.00" y2="247.60" stroke="#1e1e1e" stroke-width="0.75" />
<line x1="364.00" y1="245.20" x2="364.00" y2="247.60" stroke="#1e1e1e" stroke-width="0.75" />
<line x1="366.00" y1="245.20" x2="366.00" y2="247.60" stroke="#1e1e1e" stroke-width="0.75" />
<line x1="373.00" y1="245.20" x2="373.00" y2="247.60" stroke="#1e1e1e" stroke-width="0.75" />
<line x1="379.00" y1="245.20" x2="379.00" y2="247.60" stroke="#1e1e1e" stroke-width="0.75" />
<line x1="393.00" y1="245.20" x2="393.00" y2="247.60" stroke="#1e1e1e" stroke-width="0.75" />
<line x1="421.00" y1="245.20" x2="421.00" y2="247.60" stroke="#1e1e1e" stroke-width="0.75" />
<line x1="428.00" y1="245.20" x2="428.00" y2="247.60" stroke="#1e1e1e" stroke-width="0.75" />
<line x1="434.00" y1="245.20" x2="434.00" y2="247.60" stroke="#1e1e1e" stroke-width="0.75" />
<line x1="445.00" y1="245.20" x2="445.00" y2="247.60" stroke="#1e1e1e" stroke-width="0.75" />
<path d="M333.20,247.60 H341.50 V249.50 H351.00 V252.50 H370.40 V255.00 H393.00 V258.50 H413.70 V262.00 H511.30 V262.00" fill="none" stroke="#64a572" stroke-width="1.25" stroke-linejoin="miter"/>
<line x1="356.00" y1="250.10" x2="356.00" y2="252.50" stroke="#1e1e1e" stroke-width="0.75" />
<line x1="360.00" y1="250.10" x2="360.00" y2="252.50" stroke="#1e1e1e" stroke-width="0.75" />
<line x1="363.00" y1="250.10" x2="363.00" y2="252.50" stroke="#1e1e1e" stroke-width="0.75" />
<line x1="366.00" y1="250.10" x2="366.00" y2="252.50" stroke="#1e1e1e" stroke-width="0.75" />
<line x1="369.00" y1="250.10" x2="369.00" y2="252.50" stroke="#1e1e1e" stroke-width="0.75" />
<line x1="373.00" y1="252.60" x2="373.00" y2="255.00" stroke="#1e1e1e" stroke-width="0.75" />
<line x1="378.00" y1="252.60" x2="378.00" y2="255.00" stroke="#1e1e1e" stroke-width="0.75" />
<line x1="383.00" y1="252.60" x2="383.00" y2="255.00" stroke="#1e1e1e" stroke-width="0.75" />
<line x1="388.00" y1="252.60" x2="388.00" y2="255.00" stroke="#1e1e1e" stroke-width="0.75" />
<line x1="395.00" y1="256.10" x2="395.00" y2="258.50" stroke="#1e1e1e" stroke-width="0.75" />
<line x1="399.00" y1="256.10" x2="399.00" y2="258.50" stroke="#1e1e1e" stroke-width="0.75" />
<line x1="405.00" y1="256.10" x2="405.00" y2="258.50" stroke="#1e1e1e" stroke-width="0.75" />
<line x1="416.00" y1="259.60" x2="416.00" y2="262.00" stroke="#1e1e1e" stroke-width="0.75" />
<line x1="418.00" y1="259.60" x2="418.00" y2="262.00" stroke="#1e1e1e" stroke-width="0.75" />
<line x1="420.00" y1="259.60" x2="420.00" y2="262.00" stroke="#1e1e1e" stroke-width="0.75" />
<line x1="424.00" y1="259.60" x2="424.00" y2="262.00" stroke="#1e1e1e" stroke-width="0.75" />
<line x1="428.00" y1="259.60" x2="428.00" y2="262.00" stroke="#1e1e1e" stroke-width="0.75" />
<line x1="436.00" y1="259.60" x2="436.00" y2="262.00" stroke="#1e1e1e" stroke-width="0.75" />
<line x1="441.00" y1="259.60" x2="441.00" y2="262.00" stroke="#1e1e1e" stroke-width="0.75" />
<line x1="445.00" y1="259.60" x2="445.00" y2="262.00" stroke="#1e1e1e" stroke-width="0.75" />
<line x1="448.00" y1="259.60" x2="448.00" y2="262.00" stroke="#1e1e1e" stroke-width="0.75" />
<line x1="450.00" y1="259.60" x2="450.00" y2="262.00" stroke="#1e1e1e" stroke-width="0.75" />
<line x1="452.00" y1="259.60" x2="452.00" y2="262.00" stroke="#1e1e1e" stroke-width="0.75" />
<line x1="456.00" y1="259.60" x2="456.00" y2="262.00" stroke="#1e1e1e" stroke-width="0.75" />
<line x1="468.00" y1="259.60" x2="468.00" y2="262.00" stroke="#1e1e1e" stroke-width="0.75" />
<line x1="474.00" y1="259.60" x2="474.00" y2="262.00" stroke="#1e1e1e" stroke-width="0.75" />
<line x1="498.00" y1="259.60" x2="498.00" y2="262.00" stroke="#1e1e1e" stroke-width="0.75" />
<line x1="511.00" y1="259.60" x2="511.00" y2="262.00" stroke="#1e1e1e" stroke-width="0.75" />
<path d="M333.20,247.60 H341.50 V253.50 H345.20 V257.50 H346.20 V265.60 H348.90 V276.30 H350.60 V284.30 H450.60 V284.30" fill="none" stroke="#64a572" stroke-width="1.25" stroke-dasharray="3.5,1.6" stroke-linejoin="miter"/>
<line x1="357.00" y1="281.90" x2="357.00" y2="284.30" stroke="#1e1e1e" stroke-width="0.75" />
<line x1="361.00" y1="281.90" x2="361.00" y2="284.30" stroke="#1e1e1e" stroke-width="0.75" />
<line x1="368.00" y1="281.90" x2="368.00" y2="284.30" stroke="#1e1e1e" stroke-width="0.75" />
<line x1="375.00" y1="281.90" x2="375.00" y2="284.30" stroke="#1e1e1e" stroke-width="0.75" />
<line x1="385.00" y1="281.90" x2="385.00" y2="284.30" stroke="#1e1e1e" stroke-width="0.75" />
<line x1="395.00" y1="281.90" x2="395.00" y2="284.30" stroke="#1e1e1e" stroke-width="0.75" />
<line x1="405.00" y1="281.90" x2="405.00" y2="284.30" stroke="#1e1e1e" stroke-width="0.75" />
<line x1="415.00" y1="281.90" x2="415.00" y2="284.30" stroke="#1e1e1e" stroke-width="0.75" />
<line x1="425.00" y1="281.90" x2="425.00" y2="284.30" stroke="#1e1e1e" stroke-width="0.75" />
<line x1="434.00" y1="281.90" x2="434.00" y2="284.30" stroke="#1e1e1e" stroke-width="0.75" />
<line x1="440.00" y1="281.90" x2="440.00" y2="284.30" stroke="#1e1e1e" stroke-width="0.75" />
<line x1="450.00" y1="281.90" x2="450.00" y2="284.30" stroke="#1e1e1e" stroke-width="0.75" />
<path d="M333.20,247.60 H347.50 V259.50 H362.30 V277.00 H473.80 V277.00" fill="none" stroke="#ad3d5e" stroke-width="1.25" stroke-linejoin="miter"/>
<line x1="351.00" y1="257.10" x2="351.00" y2="259.50" stroke="#1e1e1e" stroke-width="0.75" />
<line x1="357.00" y1="257.10" x2="357.00" y2="259.50" stroke="#1e1e1e" stroke-width="0.75" />
<line x1="397.00" y1="274.60" x2="397.00" y2="277.00" stroke="#1e1e1e" stroke-width="0.75" />
<line x1="414.00" y1="274.60" x2="414.00" y2="277.00" stroke="#1e1e1e" stroke-width="0.75" />
<line x1="472.00" y1="274.60" x2="472.00" y2="277.00" stroke="#1e1e1e" stroke-width="0.75" />
<line x1="473.50" y1="274.60" x2="473.50" y2="277.00" stroke="#1e1e1e" stroke-width="0.75" />
<path d="M333.20,247.60 H350.90 V298.60 H373.10 V350.00" fill="none" stroke="#ad3d5e" stroke-width="1.25" stroke-dasharray="3.5,1.6" stroke-linejoin="miter"/>
<text transform="translate(456.20,306.61) scale(0.926,1)" font-size="6.70" text-anchor="start" fill="#2b2b2b" font-weight="normal" >Pre</text>
<text transform="translate(493.40,306.61) scale(0.926,1)" font-size="6.70" text-anchor="start" fill="#2b2b2b" font-weight="normal" >Post</text>
<line x1="439.70" y1="313.10" x2="453.10" y2="313.10" stroke="#5e7488" stroke-width="1.3" />
<text transform="translate(456.20,315.55) scale(0.926,1)" font-size="6.80" text-anchor="start" fill="#2b2b2b" font-weight="normal" >MRD−</text>
<text transform="translate(493.40,315.55) scale(0.926,1)" font-size="6.80" text-anchor="start" fill="#2b2b2b" font-weight="normal" >MRD−</text>
<line x1="439.70" y1="321.90" x2="453.10" y2="321.90" stroke="#64a572" stroke-width="1.3" />
<text transform="translate(456.20,324.35) scale(0.926,1)" font-size="6.80" text-anchor="start" fill="#2b2b2b" font-weight="normal" >MRD+&lt;1%</text>
<text transform="translate(493.40,324.35) scale(0.926,1)" font-size="6.80" text-anchor="start" fill="#2b2b2b" font-weight="normal" >MRD−</text>
<line x1="439.70" y1="330.80" x2="453.10" y2="330.80" stroke="#64a572" stroke-width="1.3" stroke-dasharray="4,1.4"/>
<text transform="translate(456.20,333.25) scale(0.926,1)" font-size="6.80" text-anchor="start" fill="#2b2b2b" font-weight="normal" >MRD+&lt;1%</text>
<text transform="translate(493.40,333.25) scale(0.926,1)" font-size="6.80" text-anchor="start" fill="#2b2b2b" font-weight="normal" >MRD+</text>
<line x1="439.70" y1="339.60" x2="453.10" y2="339.60" stroke="#ad3d5e" stroke-width="1.3" />
<text transform="translate(456.20,342.05) scale(0.926,1)" font-size="6.80" text-anchor="start" fill="#2b2b2b" font-weight="normal" >MRD≥1%</text>
<text transform="translate(493.40,342.05) scale(0.926,1)" font-size="6.80" text-anchor="start" fill="#2b2b2b" font-weight="normal" >MRD−</text>
<line x1="439.70" y1="348.50" x2="453.10" y2="348.50" stroke="#ad3d5e" stroke-width="1.3" stroke-dasharray="4,1.4"/>
<text transform="translate(456.20,350.95) scale(0.926,1)" font-size="6.80" text-anchor="start" fill="#2b2b2b" font-weight="normal" >MRD≥1%</text>
<text transform="translate(493.40,350.95) scale(0.926,1)" font-size="6.80" text-anchor="start" fill="#2b2b2b" font-weight="normal" >MRD+</text>
<text transform="translate(283.00,389.12) scale(0.926,1)" font-size="6.59" text-anchor="start" fill="#2b2b2b" font-weight="normal" >Number at risk</text>
<text transform="translate(323.00,399.51) scale(0.926,1)" font-size="6.97" text-anchor="end" fill="#2b2b2b" font-weight="normal" >MRD−/MRD−</text>
<text x="333.30" y="399.45" font-size="6.80" text-anchor="middle" fill="#2b2b2b" font-weight="normal" >12</text>
<text x="358.46" y="399.45" font-size="6.80" text-anchor="middle" fill="#2b2b2b" font-weight="normal" >10</text>
<text x="383.62" y="399.45" font-size="6.80" text-anchor="middle" fill="#2b2b2b" font-weight="normal" >5</text>
<text x="408.78" y="399.45" font-size="6.80" text-anchor="middle" fill="#2b2b2b" font-weight="normal" >4</text>
<text x="433.94" y="399.45" font-size="6.80" text-anchor="middle" fill="#2b2b2b" font-weight="normal" >2</text>
<text x="459.10" y="399.45" font-size="6.80" text-anchor="middle" fill="#2b2b2b" font-weight="normal" >0</text>
<text x="484.26" y="399.45" font-size="6.80" text-anchor="middle" fill="#2b2b2b" font-weight="normal" >0</text>
<text x="509.42" y="399.45" font-size="6.80" text-anchor="middle" fill="#2b2b2b" font-weight="normal" >0</text>
<text transform="translate(323.00,409.51) scale(0.926,1)" font-size="6.97" text-anchor="end" fill="#2b2b2b" font-weight="normal" >MRD&lt;1%/MRD−</text>
<text x="333.30" y="409.45" font-size="6.80" text-anchor="middle" fill="#2b2b2b" font-weight="normal" >46</text>
<text x="358.46" y="409.45" font-size="6.80" text-anchor="middle" fill="#2b2b2b" font-weight="normal" >38</text>
<text x="383.62" y="409.45" font-size="6.80" text-anchor="middle" fill="#2b2b2b" font-weight="normal" >29</text>
<text x="408.78" y="409.45" font-size="6.80" text-anchor="middle" fill="#2b2b2b" font-weight="normal" >23</text>
<text x="433.94" y="409.45" font-size="6.80" text-anchor="middle" fill="#2b2b2b" font-weight="normal" >14</text>
<text x="459.10" y="409.45" font-size="6.80" text-anchor="middle" fill="#2b2b2b" font-weight="normal" >5</text>
<text x="484.26" y="409.45" font-size="6.80" text-anchor="middle" fill="#2b2b2b" font-weight="normal" >3</text>
<text x="509.42" y="409.45" font-size="6.80" text-anchor="middle" fill="#2b2b2b" font-weight="normal" >1</text>
<text transform="translate(323.00,419.51) scale(0.926,1)" font-size="6.97" text-anchor="end" fill="#2b2b2b" font-weight="normal" >MRD&lt;1%/MRD+</text>
<text x="333.30" y="419.45" font-size="6.80" text-anchor="middle" fill="#2b2b2b" font-weight="normal" >12</text>
<text x="358.46" y="419.45" font-size="6.80" text-anchor="middle" fill="#2b2b2b" font-weight="normal" >6</text>
<text x="383.62" y="419.45" font-size="6.80" text-anchor="middle" fill="#2b2b2b" font-weight="normal" >5</text>
<text x="408.78" y="419.45" font-size="6.80" text-anchor="middle" fill="#2b2b2b" font-weight="normal" >2</text>
<text x="433.94" y="419.45" font-size="6.80" text-anchor="middle" fill="#2b2b2b" font-weight="normal" >2</text>
<text x="459.10" y="419.45" font-size="6.80" text-anchor="middle" fill="#2b2b2b" font-weight="normal" >0</text>
<text x="484.26" y="419.45" font-size="6.80" text-anchor="middle" fill="#2b2b2b" font-weight="normal" >0</text>
<text x="509.42" y="419.45" font-size="6.80" text-anchor="middle" fill="#2b2b2b" font-weight="normal" >0</text>
<text transform="translate(323.00,430.01) scale(0.926,1)" font-size="6.97" text-anchor="end" fill="#2b2b2b" font-weight="normal" >MRD≥1%/MRD−</text>
<text x="333.30" y="429.95" font-size="6.80" text-anchor="middle" fill="#2b2b2b" font-weight="normal" >9</text>
<text x="358.46" y="429.95" font-size="6.80" text-anchor="middle" fill="#2b2b2b" font-weight="normal" >6</text>
<text x="383.62" y="429.95" font-size="6.80" text-anchor="middle" fill="#2b2b2b" font-weight="normal" >4</text>
<text x="408.78" y="429.95" font-size="6.80" text-anchor="middle" fill="#2b2b2b" font-weight="normal" >3</text>
<text x="433.94" y="429.95" font-size="6.80" text-anchor="middle" fill="#2b2b2b" font-weight="normal" >2</text>
<text x="459.10" y="429.95" font-size="6.80" text-anchor="middle" fill="#2b2b2b" font-weight="normal" >2</text>
<text x="484.26" y="429.95" font-size="6.80" text-anchor="middle" fill="#2b2b2b" font-weight="normal" >0</text>
<text x="509.42" y="429.95" font-size="6.80" text-anchor="middle" fill="#2b2b2b" font-weight="normal" >0</text>
<text transform="translate(323.00,440.01) scale(0.926,1)" font-size="6.97" text-anchor="end" fill="#2b2b2b" font-weight="normal" >MRD≥1%/MRD+</text>
<text x="333.30" y="439.95" font-size="6.80" text-anchor="middle" fill="#2b2b2b" font-weight="normal" >2</text>
<text x="358.46" y="439.95" font-size="6.80" text-anchor="middle" fill="#2b2b2b" font-weight="normal" >1</text>
<text x="383.62" y="439.95" font-size="6.80" text-anchor="middle" fill="#2b2b2b" font-weight="normal" >0</text>
<text x="408.78" y="439.95" font-size="6.80" text-anchor="middle" fill="#2b2b2b" font-weight="normal" >0</text>
<text x="433.94" y="439.95" font-size="6.80" text-anchor="middle" fill="#2b2b2b" font-weight="normal" >0</text>
<text x="459.10" y="439.95" font-size="6.80" text-anchor="middle" fill="#2b2b2b" font-weight="normal" >0</text>
<text x="484.26" y="439.95" font-size="6.80" text-anchor="middle" fill="#2b2b2b" font-weight="normal" >0</text>
<text x="509.42" y="439.95" font-size="6.80" text-anchor="middle" fill="#2b2b2b" font-weight="normal" >0</text>
<line x1="75.20" y1="472.90" x2="455.40" y2="472.90" stroke="#555" stroke-width="1.4" />
<line x1="75.20" y1="494.40" x2="297.40" y2="494.40" stroke="#333" stroke-width="1.0" />
<line x1="315.70" y1="494.40" x2="455.40" y2="494.40" stroke="#333" stroke-width="1.0" />
<line x1="75.20" y1="518.70" x2="455.40" y2="518.70" stroke="#333" stroke-width="1.0" />
<text transform="translate(80.20,490.25) scale(0.926,1)" font-size="6.80" text-anchor="start" fill="#2b2b2b" font-weight="normal" >MRD level</text>
<text transform="translate(198.80,490.25) scale(0.926,1)" font-size="6.80" text-anchor="middle" fill="#2b2b2b" font-weight="normal" >HR</text>
<text transform="translate(236.90,482.05) scale(0.926,1)" font-size="6.80" text-anchor="middle" fill="#2b2b2b" font-weight="normal" >DFS</text>
<text transform="translate(236.90,490.25) scale(0.926,1)" font-size="6.80" text-anchor="middle" fill="#2b2b2b" font-weight="normal" >IC95%</text>
<text x="266.5" y="490.07" font-size="6.3" fill="#2b2b2b"><tspan font-style="italic">P</tspan> value</text>
<text transform="translate(329.20,490.25) scale(0.926,1)" font-size="6.80" text-anchor="middle" fill="#2b2b2b" font-weight="normal" >HR</text>
<text transform="translate(382.50,482.05) scale(0.926,1)" font-size="6.80" text-anchor="middle" fill="#2b2b2b" font-weight="normal" >OS</text>
<text transform="translate(382.50,490.25) scale(0.926,1)" font-size="6.80" text-anchor="middle" fill="#2b2b2b" font-weight="normal" >IC95%</text>
<text x="426.2" y="490.07" font-size="6.3" fill="#2b2b2b"><tspan font-style="italic">P</tspan> value</text>
<text transform="translate(80.20,502.75) scale(0.926,1)" font-size="6.80" text-anchor="start" fill="#2b2b2b" font-weight="normal" >Pre blin*</text>
<text transform="translate(80.20,512.85) scale(0.926,1)" font-size="6.80" text-anchor="start" fill="#2b2b2b" font-weight="normal" >Post blin, best response**</text>
<text transform="translate(198.40,502.67) scale(0.963,1)" font-size="6.59" text-anchor="middle" fill="#2b2b2b" font-weight="normal" >3.03</text>
<text transform="translate(236.60,502.67) scale(0.963,1)" font-size="6.59" text-anchor="middle" fill="#2b2b2b" font-weight="normal" >1.21-7.59</text>
<text transform="translate(275.20,502.67) scale(0.963,1)" font-size="6.59" text-anchor="middle" fill="#2b2b2b" font-weight="normal" >.018</text>
<text transform="translate(329.20,502.67) scale(0.963,1)" font-size="6.59" text-anchor="middle" fill="#2b2b2b" font-weight="normal" >3.01</text>
<text transform="translate(382.50,502.67) scale(0.963,1)" font-size="6.59" text-anchor="middle" fill="#2b2b2b" font-weight="normal" >1.04-8.73</text>
<text transform="translate(437.00,502.67) scale(0.963,1)" font-size="6.59" text-anchor="middle" fill="#2b2b2b" font-weight="normal" >.042</text>
<text transform="translate(198.40,512.97) scale(0.963,1)" font-size="6.59" text-anchor="middle" fill="#2b2b2b" font-weight="normal" >4.88</text>
<text transform="translate(236.60,512.97) scale(0.963,1)" font-size="6.59" text-anchor="middle" fill="#2b2b2b" font-weight="normal" >1.94-12.31</text>
<text transform="translate(275.20,512.97) scale(0.963,1)" font-size="6.59" text-anchor="middle" fill="#2b2b2b" font-weight="normal" >.001</text>
<text transform="translate(329.20,512.97) scale(0.963,1)" font-size="6.59" text-anchor="middle" fill="#2b2b2b" font-weight="normal" >5.10</text>
<text transform="translate(382.50,512.97) scale(0.963,1)" font-size="6.59" text-anchor="middle" fill="#2b2b2b" font-weight="normal" >1.67-15.51</text>
<text transform="translate(437.00,512.97) scale(0.963,1)" font-size="6.59" text-anchor="middle" fill="#2b2b2b" font-weight="normal" >.004</text>
<text transform="translate(80.40,528.55) scale(0.926,1)" font-size="6.80" text-anchor="start" fill="#2b2b2b" font-weight="normal" >* 3 MRD levels : MRD−, MRD+&lt;1%, MRD≥1%</text>
<text x="80.4" y="535.67" font-size="6.3" fill="#2b2b2b">** MRD+ <tspan font-style="italic">vs.</tspan> MRD−</text>
</svg></body></html>
